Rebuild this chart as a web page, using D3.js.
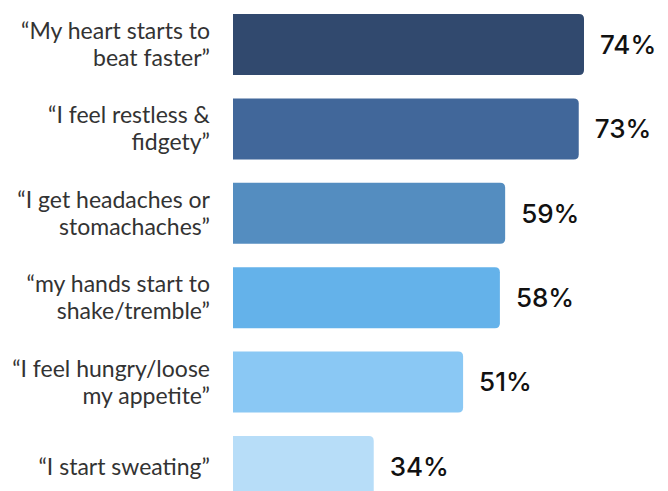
<!DOCTYPE html>
<html>
<head>
<meta charset="utf-8">
<script src="https://cdn.jsdelivr.net/npm/d3@7"></script>
<style>
  html, body { margin: 0; padding: 0; background: #fff; }
  svg { display: block; }
</style>
</head>
<body>
<svg id="chart" width="668" height="491"></svg>
<script>
// Survey answers: what happens physically when anxious
const categories = [
  ["\u201CMy heart starts to", "beat faster\u201D"],
  ["\u201CI feel restless &", "fidgety\u201D"],
  ["\u201CI get headaches or", "stomachaches\u201D"],
  ["\u201Cmy hands start to", "shake/tremble\u201D"],
  ["\u201CI feel hungry/loose", "my appetite\u201D"],
  ["\u201CI start sweating\u201D"]
];
const values = [74, 73, 59, 58, 51, 34];
const valueLabels = ["74%", "73%", "59%", "58%", "51%", "34%"];
const colors = ["#31496e", "#41679a", "#548dc0", "#64b2ea", "#8ac8f4", "#b7ddf8"];

const svg = d3.select("#chart");

const barLeft = 233;
const x = d3.scaleLinear().domain([0, 74]).range([195, 584]);
const y = d3.scaleBand()
  .domain(d3.range(categories.length))
  .range([14, 497])
  .paddingInner(0.277)
  .paddingOuter(0);

const r = 5;
// flat left end, rounded right end
function barPath(x0, x1, y0, h) {
  return `M${x0},${y0}H${x1 - r}Q${x1},${y0} ${x1},${y0 + r}` +
         `V${y0 + h - r}Q${x1},${y0 + h} ${x1 - r},${y0 + h}H${x0}Z`;
}

const rows = svg.selectAll("g.row")
  .data(values.map((v, i) => ({ v, i })))
  .join("g")
  .attr("class", "row");

rows.append("path")
  .attr("d", d => barPath(barLeft, x(d.v), y(d.i), y.bandwidth()))
  .attr("fill", d => colors[d.i]);

rows.append("text")
  .attr("x", d => x(d.v) + 16)
  .attr("y", d => y(d.i) + y.bandwidth() / 2)
  .attr("dy", "0.36em")
  .attr("font-family", "Inter, 'Open Sans', sans-serif")
  .attr("font-weight", 500)
  .attr("font-size", 26)
  .attr("fill", "#111")
  .text(d => valueLabels[d.i]);

const lineH = 27;
rows.append("text")
  .attr("text-anchor", "end")
  .attr("font-family", "Lato, 'Open Sans', sans-serif")
  .attr("font-size", 23)
  .attr("fill", "#333")
  .each(function (d) {
    const lines = categories[d.i];
    const cy = y(d.i) + y.bandwidth() / 2;
    const t = d3.select(this);
    lines.forEach((ln, k) => {
      t.append("tspan")
        .attr("x", 210)
        .attr("y", cy + (k - (lines.length - 1) / 2) * lineH)
        .attr("dy", "0.35em")
        .text(ln);
    });
  });
</script>
</body>
</html>
